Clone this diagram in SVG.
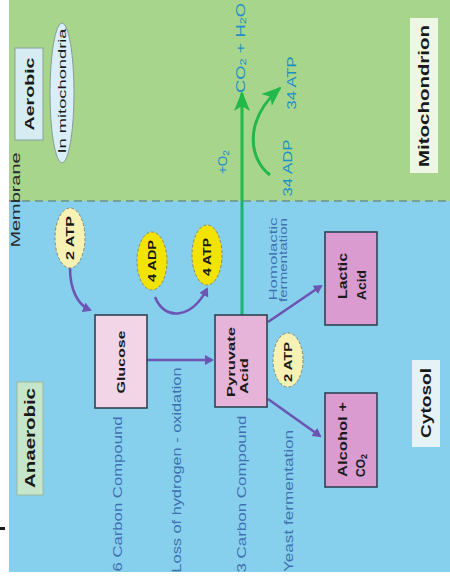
<svg xmlns="http://www.w3.org/2000/svg" width="450" height="580" viewBox="0 0 450 580">
<defs>
<style>
.t{font-family:"Liberation Sans",Arial,sans-serif}
.b{font-weight:bold;fill:#1a1a1a}
.lbl{fill:#4170b0}
.teal{fill:#1b8fc8}
.box{stroke:#2e4452;stroke-width:1.6}
.pa{fill:none;stroke:#6c55b2;stroke-width:2.6}
.ell{stroke:#8a8a6a;stroke-width:1;stroke-dasharray:3 2}
</style>
<marker id="ap" markerWidth="10" markerHeight="10" refX="7" refY="5" orient="auto" markerUnits="userSpaceOnUse">
<path d="M0,0 L9,5 L0,10 z" fill="#6c55b2"/>
</marker>
<marker id="ag" markerWidth="20" markerHeight="16" refX="18" refY="8" orient="auto" markerUnits="userSpaceOnUse">
<path d="M0,0 L20,8 L0,16 L5,8 z" fill="#22b84a"/>
</marker>
</defs>

<!-- background regions -->
<rect x="0" y="0" width="450" height="580" fill="#ffffff"/>
<rect x="9" y="0" width="441" height="201" fill="#a8d58c"/>
<rect x="9" y="201" width="441" height="371" fill="#86d0ee"/>
<line x1="9" y1="201" x2="450" y2="201" stroke="#76a09a" stroke-width="2.2" stroke-dasharray="8 5"/>
<rect x="0" y="527" width="5" height="3" fill="#1a1a1a"/>

<text class="t" x="16" y="200" font-size="12" fill="#2b2b2b" text-anchor="middle" dominant-baseline="central" textLength="95" lengthAdjust="spacingAndGlyphs" transform="rotate(-90 16 200)">Membrane</text>

<!-- region labels -->
<g id="aerobic">
<rect x="15" y="48" width="28" height="92" fill="#d4ecf2" stroke="#8aa0a0" stroke-width="1"/>
<text class="t b" x="29" y="94" font-size="13" text-anchor="middle" dominant-baseline="central" textLength="73" lengthAdjust="spacingAndGlyphs" transform="rotate(-90 29 94)">Aerobic</text>
</g>
<g id="in-mito">
<ellipse cx="62" cy="93" rx="12" ry="70" fill="#d8eef8" stroke="#8a9a9a" stroke-width="1"/>
<text class="t" x="62" y="91" font-size="11" fill="#1a1a1a" text-anchor="middle" dominant-baseline="central" textLength="125" lengthAdjust="spacingAndGlyphs" transform="rotate(-90 62 91)">In mitochondria</text>
</g>
<g id="mitochondrion">
<rect x="410" y="18" width="28" height="155" fill="#eef6e6"/>
<text class="t b" x="424" y="96" font-size="14" text-anchor="middle" dominant-baseline="central" textLength="142" lengthAdjust="spacingAndGlyphs" transform="rotate(-90 424 96)">Mitochondrion</text>
</g>
<g id="cytosol">
<rect x="412" y="360" width="28" height="87" fill="#e6f3f6"/>
<text class="t b" x="426" y="403" font-size="14" text-anchor="middle" dominant-baseline="central" textLength="70" lengthAdjust="spacingAndGlyphs" transform="rotate(-90 426 403)">Cytosol</text>
</g>
<g id="anaerobic">
<rect x="17" y="382" width="26" height="113" fill="#c6e6cc" stroke="#9ab89a" stroke-width="1"/>
<text class="t b" x="30" y="438" font-size="14" text-anchor="middle" dominant-baseline="central" textLength="100" lengthAdjust="spacingAndGlyphs" transform="rotate(-90 30 438)">Anaerobic</text>
</g>

<!-- connectors -->
<g id="connectors">
<path class="pa" d="M70,268 C70,290 78,305 90,310" marker-end="url(#ap)"/>
<path class="pa" d="M155,297 C165,322 192,318 207,289" marker-end="url(#ap)"/>
<line class="pa" x1="147" y1="360" x2="212" y2="360" marker-end="url(#ap)"/>
<line class="pa" x1="268" y1="322" x2="321" y2="286" marker-end="url(#ap)"/>
<line class="pa" x1="268" y1="399" x2="320" y2="436" marker-end="url(#ap)"/>
<line x1="242" y1="315" x2="242" y2="201" stroke="#1db370" stroke-width="3"/>
<line x1="242" y1="201" x2="242" y2="93" stroke="#22b84a" stroke-width="3" marker-end="url(#ag)"/>
<path d="M270,175 C250,160 242,122 280,88" fill="none" stroke="#22b84a" stroke-width="3" marker-end="url(#ag)"/>
</g>

<!-- blue labels -->
<text class="t lbl" x="118" y="494" font-size="12" text-anchor="middle" dominant-baseline="central" textLength="155" lengthAdjust="spacingAndGlyphs" transform="rotate(-90 118 494)">6 Carbon Compound</text>
<text class="t lbl" x="177" y="470" font-size="12" text-anchor="middle" dominant-baseline="central" textLength="205" lengthAdjust="spacingAndGlyphs" transform="rotate(-90 177 470)">Loss of hydrogen - oxidation</text>
<text class="t lbl" x="242" y="494" font-size="12" text-anchor="middle" dominant-baseline="central" textLength="157" lengthAdjust="spacingAndGlyphs" transform="rotate(-90 242 494)">3 Carbon Compound</text>
<text class="t lbl" x="289" y="501" font-size="12" text-anchor="middle" dominant-baseline="central" textLength="142" lengthAdjust="spacingAndGlyphs" transform="rotate(-90 289 501)">Yeast fermentation</text>
<text class="t lbl" x="273" y="259" font-size="11" text-anchor="middle" dominant-baseline="central" textLength="83" lengthAdjust="spacingAndGlyphs" transform="rotate(-90 273 259)">Homolactic</text>
<text class="t lbl" x="283" y="260" font-size="11" text-anchor="middle" dominant-baseline="central" textLength="84" lengthAdjust="spacingAndGlyphs" transform="rotate(-90 283 260)">fermentation</text>

<!-- teal labels -->
<text class="t teal" x="223" y="162" font-size="12" text-anchor="middle" dominant-baseline="central" textLength="24" lengthAdjust="spacingAndGlyphs" transform="rotate(-90 223 162)">+O<tspan font-size="9" dy="3">2</tspan></text>
<text class="t teal" x="240" y="48" font-size="13" text-anchor="middle" dominant-baseline="central" textLength="90" lengthAdjust="spacingAndGlyphs" transform="rotate(-90 240 48)">CO<tspan font-size="9" dy="3">2</tspan><tspan dy="-3"> + H</tspan><tspan font-size="9" dy="3">2</tspan><tspan dy="-3">O</tspan></text>
<text class="t teal" x="292" y="83" font-size="12" text-anchor="middle" dominant-baseline="central" textLength="53" lengthAdjust="spacingAndGlyphs" transform="rotate(-90 292 83)">34 ATP</text>
<text class="t teal" x="288" y="168" font-size="12" text-anchor="middle" dominant-baseline="central" textLength="57" lengthAdjust="spacingAndGlyphs" transform="rotate(-90 288 168)">34 ADP</text>

<!-- ellipses -->
<g id="atp2-top">
<ellipse class="ell" cx="70" cy="238" rx="15" ry="30" fill="#f7f2b4"/>
<text class="t b" x="70" y="238" font-size="10" text-anchor="middle" dominant-baseline="central" textLength="44" lengthAdjust="spacingAndGlyphs" transform="rotate(-90 70 238)">2 ATP</text>
</g>
<g id="adp4">
<ellipse class="ell" cx="152" cy="261" rx="15" ry="29" fill="#f2e400"/>
<text class="t b" x="152" y="261" font-size="10" text-anchor="middle" dominant-baseline="central" textLength="42" lengthAdjust="spacingAndGlyphs" transform="rotate(-90 152 261)">4 ADP</text>
</g>
<g id="atp4">
<ellipse class="ell" cx="207" cy="255" rx="15" ry="30" fill="#f2e400"/>
<text class="t b" x="207" y="257" font-size="10" text-anchor="middle" dominant-baseline="central" textLength="38" lengthAdjust="spacingAndGlyphs" transform="rotate(-90 207 257)">4 ATP</text>
</g>
<g id="atp2-mid">
<ellipse class="ell" cx="288" cy="360" rx="15" ry="27" fill="#f7f2b4"/>
<text class="t b" x="288" y="362" font-size="10" text-anchor="middle" dominant-baseline="central" textLength="40" lengthAdjust="spacingAndGlyphs" transform="rotate(-90 288 362)">2 ATP</text>
</g>

<!-- boxes -->
<g id="glucose">
<rect class="box" x="95" y="315" width="52" height="93" fill="#f3d5e8"/>
<text class="t b" x="121" y="362" font-size="11" text-anchor="middle" dominant-baseline="central" textLength="63" lengthAdjust="spacingAndGlyphs" transform="rotate(-90 121 362)">Glucose</text>
</g>
<g id="pyruvate">
<rect class="box" x="215" y="315" width="52" height="92" fill="#e6b4d8"/>
<text class="t b" x="231" y="397" font-size="11" dominant-baseline="central" textLength="70" lengthAdjust="spacingAndGlyphs" transform="rotate(-90 231 397)">Pyruvate</text>
<text class="t b" x="244" y="394" font-size="11" dominant-baseline="central" textLength="36" lengthAdjust="spacingAndGlyphs" transform="rotate(-90 244 394)">Acid</text>
</g>
<g id="lactic">
<rect class="box" x="325" y="232" width="52" height="93" fill="#d99bd0"/>
<text class="t b" x="343" y="299" font-size="12" dominant-baseline="central" textLength="46" lengthAdjust="spacingAndGlyphs" transform="rotate(-90 343 299)">Lactic</text>
<text class="t b" x="362" y="300" font-size="12" dominant-baseline="central" textLength="30" lengthAdjust="spacingAndGlyphs" transform="rotate(-90 362 300)">Acid</text>
</g>
<g id="alcohol">
<rect class="box" x="325" y="393" width="52" height="94" fill="#d99bd0"/>
<text class="t b" x="343" y="477" font-size="12" dominant-baseline="central" textLength="75" lengthAdjust="spacingAndGlyphs" transform="rotate(-90 343 477)">Alcohol +</text>
<text class="t b" x="361" y="477" font-size="12" dominant-baseline="central" transform="rotate(-90 361 477)">CO<tspan font-size="9" dy="3">2</tspan></text>
</g>
</svg>
